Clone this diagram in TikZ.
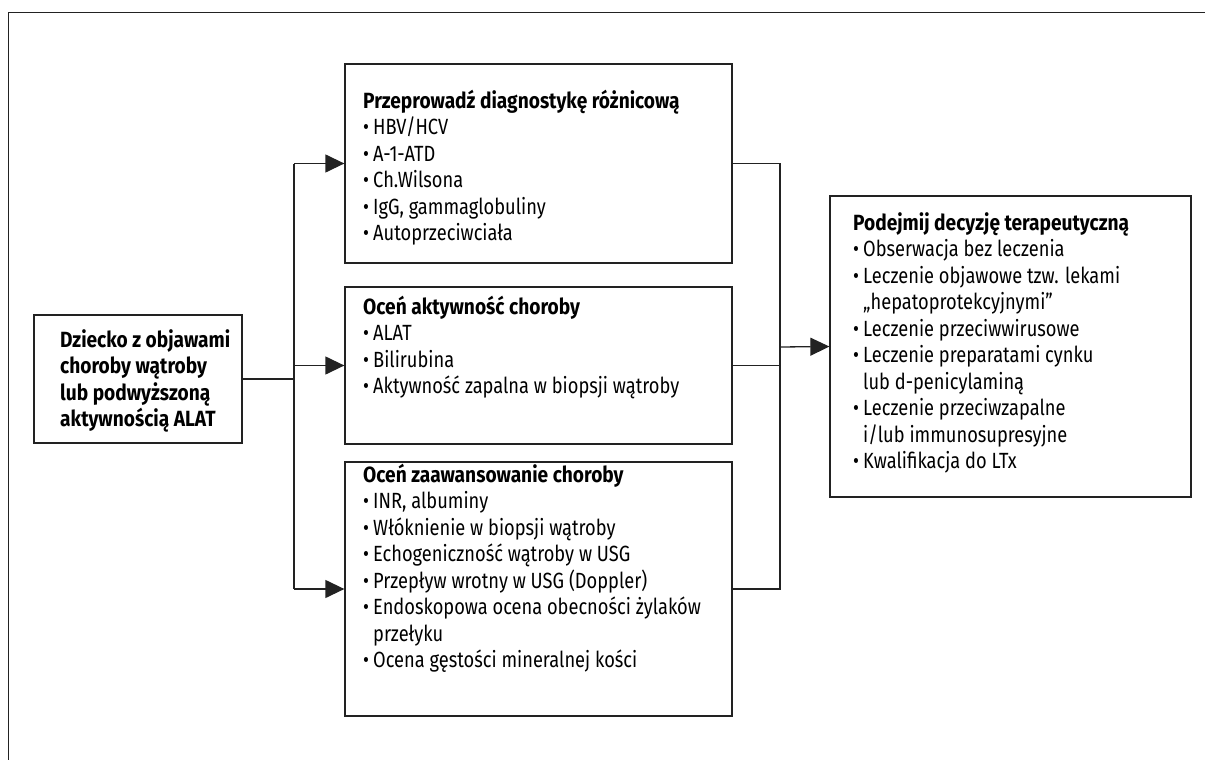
\documentclass[tikz,border=0pt]{standalone}
\usepackage{fontspec}
\setmainfont{Fira Sans}[FakeStretch=0.83,BoldFeatures={FakeStretch=0.87}]
\usetikzlibrary{arrows.meta}
\definecolor{ln}{HTML}{222222}
\newcommand{\bul}{\makebox[10pt][l]{•}}
\newcommand{\ind}{\hspace*{10pt}}
\newcommand{\fst}{\rule{0pt}{21pt}}
\begin{document}
\begin{tikzpicture}[x=1pt,y=-1pt,
  box/.style={draw=ln,line width=1.3pt,rectangle,inner sep=0pt},
  txt/.style={anchor=north west,inner sep=0pt,align=left,font=\fontsize{22}{26.5}\selectfont,text=black},
  conn/.style={draw=ln,line width=1.3pt},
  arr/.style={conn,-{Triangle[length=19pt,width=18pt]}}]
\useasboundingbox (0,0) rectangle (1205,760);
% outer frame
\draw[ln,line width=1.2pt] (8.5,760) -- (8.5,12.5) -- (1205,12.5);
% boxes
\node[box,minimum width=208pt,minimum height=128pt] (start) at (138,379) {};
\node[box,minimum width=387pt,minimum height=199pt] (b1) at (538.5,163.5) {};
\node[box,minimum width=387pt,minimum height=157pt] (b2) at (538.5,365.5) {};
\node[box,minimum width=387pt,minimum height=254pt] (b3) at (538.5,589) {};
\node[box,minimum width=361pt,minimum height=301pt] (b4) at (1010.5,346.5) {};
% texts
\node[txt] (t0) at (60,326) {\fst\bfseries Dziecko z objawami\\\bfseries choroby wątroby\\\bfseries lub podwyższoną\\\bfseries aktywnością ALAT};
\node[txt] (t1) at (363,87) {\fst\textbf{Przeprowadź diagnostykę różnicową}\\
\bul HBV/HCV\\
\bul A-1-ATD\\
\bul Ch.Wilsona\\
\bul IgG, gammaglobuliny\\
\bul Autoprzeciwciała};
\node[txt] (t2) at (363,293) {\fst\textbf{Oceń aktywność choroby}\\
\bul ALAT\\
\bul Bilirubina\\
\bul Aktywność zapalna w biopsji wątroby};
\node[txt] (t3) at (363,461) {\fst\textbf{Oceń zaawansowanie choroby}\\
\bul INR, albuminy\\
\bul Włóknienie w biopsji wątroby\\
\bul Echogeniczność wątroby w USG\\
\bul Przepływ wrotny w USG (Doppler)\\
\bul Endoskopowa ocena obecności żylaków\\
\ind przełyku\\
\bul Ocena gęstości mineralnej kości};
\node[txt] (t4) at (853,209) {\fst\textbf{Podejmij decyzję terapeutyczną}\\
\bul Obserwacja bez leczenia\\
\bul Leczenie objawowe tzw. lekami\\
\ind „hepatoprotekcyjnymi”\\
\bul Leczenie przeciwwirusowe\\
\bul Leczenie preparatami cynku\\
\ind lub d-penicylaminą\\
\bul Leczenie przeciwzapalne\\
\ind i/lub immunosupresyjne\\
\bul Kwalifikacja do LTx};
% connectors
\coordinate (jl) at (294,379);
\coordinate (jr) at (780,347);
\draw[conn] (start.east) -- (jl);
\draw[conn] (b1.west -| jl) -- (b3.west -| jl);
\draw[arr] (b1.west -| jl) -- (b1.west);
\draw[arr] (b2.west -| jl) -- (b2.west);
\draw[arr] (b3.west -| jl) -- (b3.west);
\draw[conn] (b1.east) -- (b1.east -| jr) -- (b3.east -| jr) -- (b3.east);
\draw[conn] (b2.east) -- (b2.east -| jr);
\draw[arr] (jr) -- (b4.west);
\end{tikzpicture}
\end{document}
